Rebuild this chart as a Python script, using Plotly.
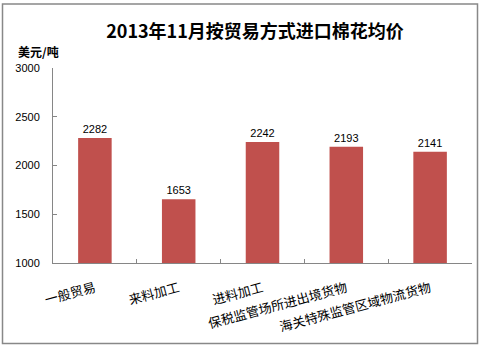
import plotly.graph_objects as go

categories = ["一般贸易", "来料加工", "进料加工", "保税监管场所进出境货物", "海关特殊监管区域物流货物"]
values = [2282, 1653, 2242, 2193, 2141]
y_ticks = [1000, 1500, 2000, 2500, 3000]

W, H = 483, 352
L, R, T, B = 53, 11, 68, 89
pw, ph = W - L - R, H - T - B

def px2x(px):
    return (px - L) / pw

def py2y(py):
    return (H - B - py) / ph

fig = go.Figure()
fig.add_trace(go.Bar(
    x=categories, y=values,
    marker=dict(color="#C0504D", line=dict(width=0)),
    width=0.4,
    text=[str(v) for v in values],
    textposition="outside",
    textfont=dict(family="Liberation Sans, Arial", size=11, color="#000000"),
    cliponaxis=False,
))

fig.update_layout(
    width=W, height=H,
    margin=dict(l=L, r=R, t=T, b=B),
    paper_bgcolor="white", plot_bgcolor="white",
    showlegend=False,
    bargap=0.6,
    title=dict(text="<b>2013年11月按贸易方式进口棉花均价</b>",
               x=px2x(255), xref="paper", xanchor="center",
               y=1 - 32 / H, yref="container", yanchor="middle",
               font=dict(family="Noto Sans CJK SC", size=18, color="#000000")),
    xaxis=dict(
        showline=True, linecolor="#868686", linewidth=1,
        ticks="inside", ticklen=4, tickcolor="#868686", tickson="boundaries",
        tickangle=-15, ticklabelstandoff=12,
        tickfont=dict(family="Noto Sans CJK SC", size=13, color="#000000"),
        showgrid=False, zeroline=False,
    ),
    yaxis=dict(
        range=[1000, 3000], tickvals=y_ticks,
        showline=True, linecolor="#868686", linewidth=1,
        ticks="inside", ticklen=4, tickcolor="#868686",
        ticklabelstandoff=10,
        tickfont=dict(family="Liberation Sans, Arial", size=11, color="#000000"),
        showgrid=False, zeroline=False,
    ),
    annotations=[dict(
        text="<b>美元/吨</b>", xref="paper", yref="paper",
        x=px2x(38), y=py2y(51), xanchor="center", yanchor="middle",
        showarrow=False,
        font=dict(family="Noto Sans CJK SC", size=12, color="#000000"),
    )],
    shapes=[dict(
        type="rect", xref="paper", yref="paper",
        x0=px2x(2.5), x1=px2x(477.5), y0=py2y(343.5), y1=py2y(4),
        line=dict(color="#888888", width=1.5), fillcolor="rgba(0,0,0,0)",
        layer="below",
    )],
)

fig.write_html("out.html")
